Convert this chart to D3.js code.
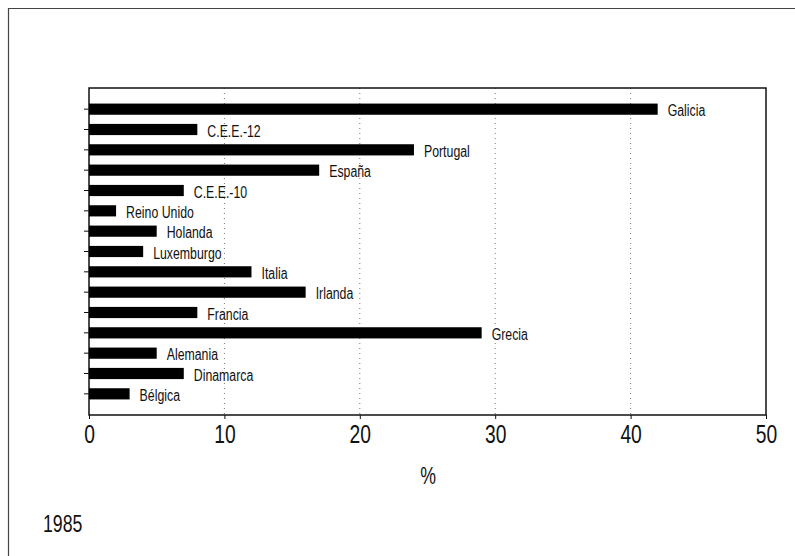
<!DOCTYPE html>
<html>
<head>
<meta charset="utf-8">
<script src="https://cdn.jsdelivr.net/npm/d3@7"></script>
<style>
  body { margin: 0; background: #fff; }
  svg { display: block; font-family: "Liberation Sans", Arial, sans-serif; }
</style>
</head>
<body>
<div id="chart"></div>
<script>
// data (% by region, 1985)
const regions = ["Galicia", "C.E.E.-12", "Portugal", "España", "C.E.E.-10", "Reino Unido", "Holanda",
  "Luxemburgo", "Italia", "Irlanda", "Francia", "Grecia", "Alemania", "Dinamarca", "Bélgica"];
const values = [42, 8, 24, 17, 7, 2, 5, 4, 12, 16, 8, 29, 5, 7, 3];
const xTicks = [0, 10, 20, 30, 40, 50];
const axisLabel = "%";
const yearLabel = "1985";

const data = regions.map((r, i) => ({ name: r, value: values[i] }));

const width = 795, height = 556;
const margin = { top: 88, right: 29, bottom: 141, left: 89 };
const plotW = width - margin.left - margin.right;
const plotH = height - margin.top - margin.bottom;
const narrow = 0.77; // no condensed font installed, squeeze horizontally

const svg = d3.select("#chart").append("svg")
  .attr("width", width)
  .attr("height", height);

// condensed text helper
const narrowText = (sel, x, y) =>
  sel.attr("transform", (d, i) => `translate(${typeof x === "function" ? x(d, i) : x},${typeof y === "function" ? y(d, i) : y}) scale(${narrow},1)`);

// outer frame (top and left edges visible)
svg.append("path")
  .attr("d", `M8.5,${height} L8.5,8.5 L${width},8.5`)
  .attr("fill", "none")
  .attr("stroke", "#444")
  .attr("stroke-width", 1.2);

const graph = svg.append("g").attr("transform", `translate(${margin.left},${margin.top})`);

const xScale = d3.scaleLinear().domain([0, 50]).range([0, plotW]);
const yScale = d3.scaleBand().domain(regions)
  .range([11, plotH - 11])
  .paddingInner(0.45)
  .paddingOuter(0.225);

// dotted grid lines
graph.append("g")
  .selectAll("line")
  .data(xTicks.filter(t => t > 0 && t < 50))
  .join("line")
  .attr("x1", d => xScale(d))
  .attr("x2", d => xScale(d))
  .attr("y1", 0)
  .attr("y2", plotH)
  .attr("stroke", "#777")
  .attr("stroke-width", 1)
  .attr("stroke-dasharray", "1,4");

// plot frame
graph.append("rect")
  .attr("x", 0).attr("y", 0)
  .attr("width", plotW).attr("height", plotH)
  .attr("fill", "none")
  .attr("stroke", "#111")
  .attr("stroke-width", 1.5);

// bars
graph.selectAll("rect.bar")
  .data(data)
  .join("rect")
  .attr("class", "bar")
  .attr("x", 0)
  .attr("y", d => yScale(d.name))
  .attr("width", d => xScale(d.value))
  .attr("height", yScale.bandwidth())
  .attr("fill", "#000");

// bar labels
graph.selectAll("text.lbl")
  .data(data)
  .join("text")
  .attr("class", "lbl")
  .call(narrowText, d => xScale(d.value) + 10, d => yScale(d.name) + yScale.bandwidth() / 2 + 7)
  .attr("font-size", 16)
  .attr("fill", "#111")
  .text(d => d.name);

// axes
const yAxis = graph.append("g")
  .call(d3.axisLeft(yScale).tickSize(5).tickSizeOuter(0).tickFormat(""));
yAxis.select(".domain").remove();
yAxis.selectAll(".tick line").attr("stroke", "#111");

const xAxis = graph.append("g")
  .attr("transform", `translate(0,${plotH})`)
  .call(d3.axisBottom(xScale).tickValues(xTicks).tickSize(4).tickSizeOuter(0));
xAxis.select(".domain").remove();
xAxis.selectAll(".tick line").attr("stroke", "#111");
xAxis.selectAll(".tick text")
  .attr("y", null).attr("dy", null)
  .call(narrowText, 0, 28)
  .attr("font-size", 25)
  .attr("fill", "#111");

svg.append("text")
  .call(narrowText, margin.left + xScale(25) + 0.5, 484)
  .attr("text-anchor", "middle")
  .attr("font-size", 23)
  .attr("fill", "#111")
  .text(axisLabel);

svg.append("text")
  .call(narrowText, 43, 532)
  .attr("font-size", 23)
  .attr("fill", "#111")
  .text(yearLabel);
</script>
</body>
</html>
